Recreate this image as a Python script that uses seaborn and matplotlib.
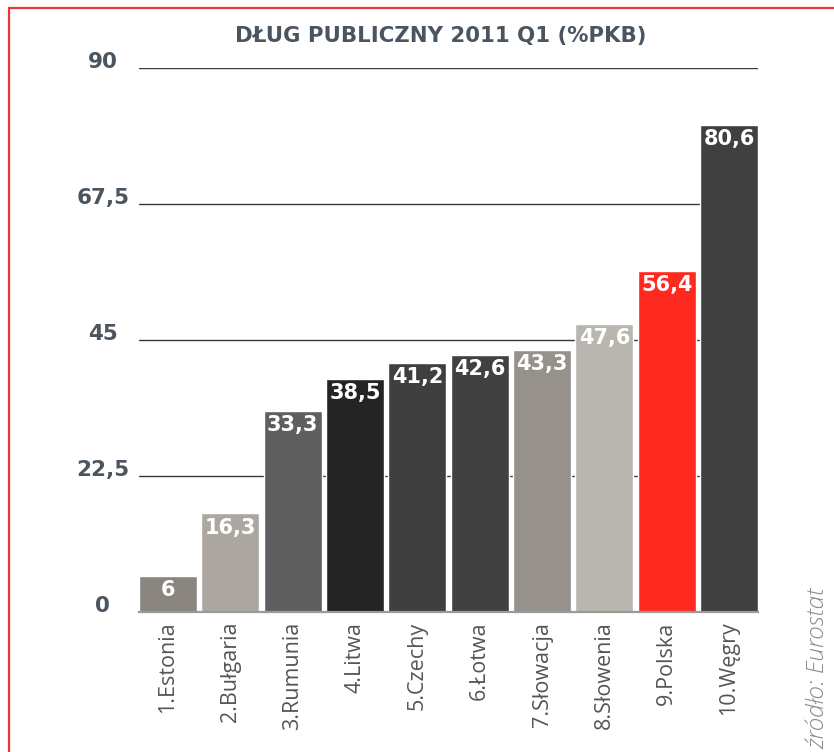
import matplotlib
matplotlib.use("Agg")
import matplotlib.pyplot as plt
import seaborn as sns
import pandas as pd
from matplotlib.patches import Rectangle

categories = ["1.Estonia", "2.Bułgaria", "3.Rumunia", "4.Litwa", "5.Czechy",
              "6.Łotwa", "7.Słowacja", "8.Słowenia", "9.Polska", "10.Węgry"]
values = [6.0, 16.3, 33.3, 38.5, 41.2, 42.6, 43.3, 47.6, 56.4, 80.6]
value_labels = ["6", "16,3", "33,3", "38,5", "41,2", "42,6", "43,3", "47,6", "56,4", "80,6"]
bar_colors = ["#8b8580", "#aca7a1", "#5f5f5f", "#242424", "#3f3f3f",
              "#414141", "#96918b", "#b9b5af", "#ff2a1f", "#404040"]
y_ticks = [0, 22.5, 45, 67.5, 90]
y_tick_labels = ["0", "22,5", "45", "67,5", "90"]
title = "DŁUG PUBLICZNY 2011 Q1 (%PKB)"
source = "źródło: Eurostat"

df = pd.DataFrame({"kraj": categories, "dlug": values})

sns.set_theme(style="white")
plt.rcParams["font.family"] = ["DejaVu Sans"]

W, H = 834, 752
fig = plt.figure(figsize=(W / 100, H / 100), dpi=100)
ax = fig.add_axes([139 / W, 1 - 612 / H, (758 - 139) / W, (612 - 68) / H])

sns.barplot(data=df, x="kraj", y="dlug", hue="kraj", palette=bar_colors,
            legend=False, width=0.93, saturation=1, ax=ax, zorder=3)

ax.set_xlim(-0.465, len(categories) - 1 + 0.465)
ax.set_ylim(0, 90)
ax.set_xlabel("")
ax.set_ylabel("")

# gridlines
for t in y_ticks[1:]:
    ax.axhline(t, color="#3a3a3a", lw=1.0, zorder=1)

for s in ["top", "right", "left"]:
    ax.spines[s].set_visible(False)
ax.spines["bottom"].set_color("#9a9a9a")
ax.spines["bottom"].set_linewidth(1.6)
ax.spines["bottom"].set_zorder(4)

ax.set_yticks(y_ticks)
ax.set_yticklabels(y_tick_labels)
ax.tick_params(axis="y", length=0, pad=26, labelsize=15.5, labelcolor="#4b5560")
for lab in ax.get_yticklabels():
    lab.set_fontweight("bold")
    lab.set_ha("center")
    lab.set_va("baseline")

ax.set_xticks(range(len(categories)))
ax.set_xticklabels(categories, rotation=90, family=["Open Sans", "DejaVu Sans"],
                   fontsize=15.5, fontweight="medium", color="#555555")
ax.tick_params(axis="x", length=0, pad=7)
for lab in ax.get_xticklabels():
    lab.set_va("top")
    lab.set_ha("center")

for i, (v, lbl) in enumerate(zip(values, value_labels)):
    ax.annotate(lbl, xy=(i, v), xytext=(0, -3), textcoords="offset points",
                ha="center", va="top", color="white", fontsize=15,
                fontweight="bold", zorder=5)

fig.text(441 / W, 1 - 42 / H, title, ha="center", va="baseline",
         fontsize=15.3, fontweight="heavy", color="#4b5560")

fig.text(818 / W, 1 - 588 / H, source, rotation=90, ha="center", va="top",
         fontsize=17.5, fontstyle="italic", fontweight="light",
         family=["Open Sans", "DejaVu Sans"], color="#8a8a8a")

fig.add_artist(Rectangle((9 / W, -0.2), 1.5, 1.2 - 8 / H + 0.0,
                         transform=fig.transFigure, fill=False,
                         edgecolor="#ee3340", lw=1.6, clip_on=False))

fig.savefig("out.png", dpi=100)
